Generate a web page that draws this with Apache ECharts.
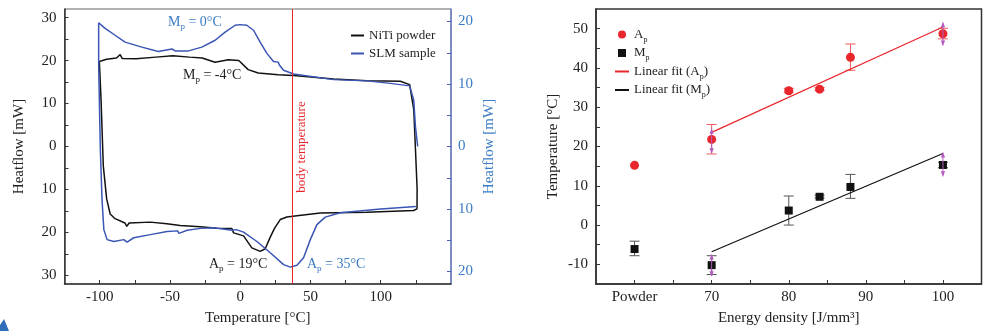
<!DOCTYPE html>
<html>
<head>
<meta charset="utf-8">
<script src="https://cdn.jsdelivr.net/npm/echarts@6/dist/echarts.min.js"></script>
<style>
html,body{margin:0;padding:0;background:#fff;}
#c{width:985px;height:331px;}
</style>
</head>
<body>
<div id="c"></div>
<script>
// ---------- Left chart: DSC heat flow loops ----------
const powderX = [-100.2, -95, -88, -85.4, -84, -74, -60, -48, -36, -27, -17.9, -8.4, -1, 5.7, 12.8, 27, 38, 66.5, 90.2, 114, 120.6, 123.5, 124.7, 125.9, 125.8, 123.4, 90, 57, 40.4, 33.2, 28.5, 24.5, 21.4, 17.8, 14.2, 8.3, 2.4, -4.7, -5.9, -16.6, -28.5, -42.7, -44, -52.2, -64, -79, -80.7, -82, -89, -92.5, -95, -97.4, -99, -100.2];
const powderY = [19.8, 20.3, 20.6, 21.4, 20.5, 20.4, 20.8, 21.1, 20.8, 20.6, 19.6, 20.2, 20.0, 17.9, 17.1, 16.7, 16.5, 15.7, 15.3, 15.2, 14.4, 8.6, -0.6, -9.9, -14.5, -14.9, -15.3, -15.5, -16.1, -16.4, -17.0, -19.0, -21.1, -23.8, -24.4, -23.6, -20.8, -20.1, -19.1, -19.0, -18.7, -18.4, -18.0, -18.0, -17.6, -17.8, -18.6, -17.8, -16.8, -15.7, -12.2, -4.5, 10.9, 19.8];

const slmX = [125.0, 100, 71.2, 60.5, 54.6, 49.9, 45.1, 40.4, 35.6, 30.9, 21.4, 11.9, 2.4, -2.8, -5.9, -7.1, -18.7, -28.2, -37.7, -43.6, -44.5, -52, -63.9, -75.7, -80.5, -82.8, -89.9, -94.7, -97, -98.3, -99.5, -100.2, -100.7, -100.7, -96.1, -89, -81.9, -70, -58.2, -48.5, -46.3, -36.8, -27.3, -17.8, -10.7, -3.6, 0, 4.7, 9.5, 14.2, 19, 23.7, 27, 28, 30.9, 38, 66.5, 90.2, 106.8, 120.6, 123.5, 124.7, 126.3];
const slmY = [-9.6, -10.0, -10.6, -11.3, -12.5, -14.9, -17.8, -19.0, -19.3, -18.9, -17.0, -15.2, -13.7, -13.3, -13.4, -13.1, -13.0, -13.1, -13.4, -13.9, -13.5, -13.6, -14.1, -14.6, -15.3, -14.9, -15.2, -14.9, -13.3, -8.5, -0.5, 7.4, 13.3, 19.8, 18.9, 17.8, 16.7, 15.9, 15.2, 15.6, 15.3, 15.3, 15.9, 17.0, 18.3, 19.4, 19.5, 19.4, 18.6, 16.7, 14.9, 13.6, 13.5, 13.0, 12.2, 11.6, 10.7, 10.5, 10.1, 9.7, 7.4, 3.2, 0.0];

const bodyTemperature = 37;
const leftXTicks = [-100, -75, -50, -25, 0, 25, 50, 75, 100, 125];
const leftXLabels = [-100, -50, 0, 50, 100];
const leftYTicks = [-30, -25, -20, -15, -10, -5, 0, 5, 10, 15, 20, 25, 30];
const leftYLabels = [-30, -20, -10, 0, 10, 20, 30];
const rightYTicks = [-20, -15, -10, -5, 0, 5, 10, 15, 20];
const rightYLabels = [-20, -10, 0, 10, 20];

// ---------- Right chart: peak temperatures vs energy density ----------
const energy = [60, 70, 80, 84, 88, 100];           // 60 = "Powder" position
const apValues = [15.2, 21.8, 34.2, 34.6, 42.7, 48.7];
const mpValues = [-6.1, -10.2, 3.7, 7.2, 9.7, 15.3];
const apErrLow = [15.2, 18.1, 33.7, 34.2, 39.4, 47.4];
const apErrHigh = [15.2, 25.6, 34.8, 35.0, 46.1, 50.1];
const mpErrLow = [-7.8, -12.6, 0.0, 6.9, 6.8, 14.6];
const mpErrHigh = [-4.1, -7.8, 7.4, 7.6, 12.9, 16.0];
const fitAX = [70, 100], fitAY = [23.6, 50.4];
const fitMX = [70, 100], fitMY = [-6.8, 18.2];
const arrowX = [70, 70, 100, 100];
const arrowLow = [18.3, -13.0, 45.7, 12.4];
const arrowHigh = [24.5, -7.5, 51.6, 18.5];
const rightXTicks = [60, 65, 70, 75, 80, 85, 90, 95, 100];
const rightXLabelValues = [60, 70, 80, 90, 100];
const rightXLabelTexts = ['Powder', '70', '80', '90', '100'];
const rightYTicks2 = [-10, -5, 0, 5, 10, 15, 20, 25, 30, 35, 40, 45, 50];
const rightYLabels2 = [-10, 0, 10, 20, 30, 40, 50];

const FONT = 'Liberation Serif';
const BLACK = '#111111';
const BLUE_LINE = '#3a55b4';
const BLUE_TEXT = '#3b7cc4';
const RED = '#e8262c';
const PURPLE = '#b35bbf';
const AXIS = '#333333';

const zip = (a, b) => a.map((v, i) => [v, b[i]]);
const zip3 = (a, b, c) => a.map((v, i) => [v, b[i], c[i]]);

const subRich = (color, size) => ({
  t: {fontFamily: FONT, fontSize: size, color: color},
  s: {fontFamily: FONT, fontSize: Math.round(size * 0.62), color: color, padding: [10, 0, 0, 0]}
});

function errRender(color, capHalf) {
  return function (params, api) {
    const x = api.value(0), lo = api.value(1), hi = api.value(2);
    const p1 = api.coord([x, lo]), p2 = api.coord([x, hi]);
    if (Math.abs(p1[1] - p2[1]) < 0.5) return null;
    const st = {stroke: color, lineWidth: 1};
    return {type: 'group', children: [
      {type: 'line', shape: {x1: p1[0], y1: p1[1], x2: p2[0], y2: p2[1]}, style: st},
      {type: 'line', shape: {x1: p1[0] - capHalf, y1: p1[1], x2: p1[0] + capHalf, y2: p1[1]}, style: st},
      {type: 'line', shape: {x1: p2[0] - capHalf, y1: p2[1], x2: p2[0] + capHalf, y2: p2[1]}, style: st}
    ]};
  };
}
function arrowRender(params, api) {
  const x = api.value(0), lo = api.value(1), hi = api.value(2);
  const p1 = api.coord([x, lo]), p2 = api.coord([x, hi]);
  const st = {stroke: PURPLE, lineWidth: 1};
  return {type: 'group', children: [
    {type: 'line', shape: {x1: p1[0], y1: p1[1], x2: p2[0], y2: p2[1]}, style: st},
    {type: 'polygon', shape: {points: [[p2[0], p2[1]], [p2[0] - 2.2, p2[1] + 5], [p2[0] + 2.2, p2[1] + 5]]}, style: {fill: PURPLE}},
    {type: 'polygon', shape: {points: [[p1[0], p1[1]], [p1[0] - 2.2, p1[1] - 5], [p1[0] + 2.2, p1[1] - 5]]}, style: {fill: PURPLE}}
  ]};
}

const tickLbl = {fontFamily: FONT, fontSize: 15, color: '#222'};
const hideSym = {opacity: 0, color: 'rgba(0,0,0,0)', borderWidth: 0};

const chart = echarts.init(document.getElementById('c'), null, {renderer: 'canvas'});
chart.setOption({
  animation: false,
  backgroundColor: '#fff',
  grid: [
    {left: 64.5, right: 534, top: 9, bottom: 45, show: true, borderColor: '#666', borderWidth: 1, backgroundColor: 'transparent'},
    {left: 596, right: 3.5, top: 9, bottom: 46, show: true, borderColor: AXIS, borderWidth: 1.5, backgroundColor: 'transparent'}
  ],
  xAxis: [
    {type: 'value', gridIndex: 0, min: -125, max: 150,
     name: 'Temperature [°C]', nameLocation: 'middle', nameGap: 27,
     nameTextStyle: {fontFamily: FONT, fontSize: 15, color: '#222'},
     axisLine: {show: true, onZero: false, lineStyle: {color: AXIS, width: 1.5}},
     axisTick: {inside: true, length: 4, customValues: leftXTicks, lineStyle: {color: AXIS}},
     axisLabel: Object.assign({customValues: leftXLabels, margin: 6}, tickLbl),
     splitLine: {show: false}},
    {type: 'value', gridIndex: 1, min: 55, max: 105,
     name: 'Energy density [J/mm³]', nameLocation: 'middle', nameGap: 27,
     nameTextStyle: {fontFamily: FONT, fontSize: 15, color: '#222'},
     axisLine: {show: true, onZero: false, lineStyle: {color: AXIS, width: 1.5}},
     axisTick: {inside: true, length: 4, customValues: rightXTicks, lineStyle: {color: AXIS}},
     axisLabel: Object.assign({customValues: rightXLabelValues, margin: 6,
       formatter: v => rightXLabelTexts[rightXLabelValues.indexOf(v)] || ''}, tickLbl),
     splitLine: {show: false}}
  ],
  yAxis: [
    {type: 'value', gridIndex: 0, min: -32, max: 32, position: 'left',
     name: 'Heatflow [mW]', nameLocation: 'middle', nameGap: 38,
     nameTextStyle: {fontFamily: FONT, fontSize: 15, color: '#222'},
     axisLine: {show: true, onZero: false, lineStyle: {color: AXIS, width: 1.5}},
     axisTick: {inside: true, length: 4, customValues: leftYTicks, lineStyle: {color: AXIS}},
     axisLabel: Object.assign({customValues: leftYLabels, margin: 8, formatter: v => String(Math.abs(v))}, tickLbl),
     splitLine: {show: false}},
    {type: 'value', gridIndex: 0, min: -22, max: 22, position: 'right',
     name: 'Heatflow [mW]', nameLocation: 'middle', nameGap: 31, nameRotate: 90,
     nameTextStyle: {fontFamily: FONT, fontSize: 15, color: BLUE_TEXT},
     axisLine: {show: true, onZero: false, lineStyle: {color: '#6b80c6', width: 1.5}},
     axisTick: {inside: true, length: 4, customValues: rightYTicks, lineStyle: {color: '#4a60b8'}},
     axisLabel: Object.assign({}, tickLbl, {customValues: rightYLabels, margin: 7, color: BLUE_TEXT, formatter: v => String(Math.abs(v))}),
     splitLine: {show: false}},
    {type: 'value', gridIndex: 1, min: -15, max: 55,
     name: 'Temperature [°C]', nameLocation: 'middle', nameGap: 35,
     nameTextStyle: {fontFamily: FONT, fontSize: 15, color: '#222'},
     axisLine: {show: true, onZero: false, lineStyle: {color: AXIS, width: 1.5}},
     axisTick: {inside: true, length: 4, customValues: rightYTicks2, lineStyle: {color: AXIS}},
     axisLabel: Object.assign({customValues: rightYLabels2, margin: 8}, tickLbl),
     splitLine: {show: false}}
  ],
  legend: [
    {left: 345, top: 24, orient: 'vertical', itemWidth: 13, itemHeight: 8, itemGap: 5,
     data: [{name: 'NiTi powder', itemStyle: hideSym}, {name: 'SLM sample', itemStyle: hideSym}],
     textStyle: {fontFamily: FONT, fontSize: 13, color: '#222'}},
    {left: 609, top: 23, orient: 'vertical', itemWidth: 14, itemHeight: 8, itemGap: 3,
     symbolKeepAspect: true,
     data: [{name: 'Ap', icon: 'circle'}, {name: 'Mp', icon: 'path://M0,0H10V10H0Z'},
            {name: 'FitA', itemStyle: hideSym}, {name: 'FitM', itemStyle: hideSym}],
     formatter: function (n) {
       return {Ap: '{t|A}{s|p}', Mp: '{t|M}{s|p}', FitA: '{t|Linear fit (A}{s|p}{t|)}', FitM: '{t|Linear fit (M}{s|p}{t|)}'}[n];
     },
     textStyle: {fontFamily: FONT, fontSize: 13, color: '#222', rich: subRich('#222', 13)}}
  ],
  series: [
    {name: 'NiTi powder', type: 'line', xAxisIndex: 0, yAxisIndex: 0, data: zip(powderX, powderY),
     showSymbol: false, symbol: 'none', lineStyle: {color: BLACK, width: 1.5}, itemStyle: {color: BLACK},
     markLine: {silent: true, symbol: ['none', 'none'], label: {show: false},
       lineStyle: {color: RED, width: 1, type: 'solid'}, data: [{xAxis: bodyTemperature}]}},
    {name: 'SLM sample', type: 'line', xAxisIndex: 0, yAxisIndex: 1, data: zip(slmX, slmY),
     showSymbol: false, symbol: 'none', lineStyle: {color: BLUE_LINE, width: 1.5}, itemStyle: {color: BLUE_TEXT}},

    {name: 'ApErr', type: 'custom', xAxisIndex: 1, yAxisIndex: 2, data: zip3(energy, apErrLow, apErrHigh),
     renderItem: errRender('#ee5a5a', 5), encode: {x: 0, y: [1, 2]}, z: 1},
    {name: 'MpErr', type: 'custom', xAxisIndex: 1, yAxisIndex: 2, data: zip3(energy, mpErrLow, mpErrHigh),
     renderItem: errRender('#555555', 5), encode: {x: 0, y: [1, 2]}, z: 1},
    {name: 'Ap', type: 'scatter', xAxisIndex: 1, yAxisIndex: 2, data: zip(energy, apValues),
     symbol: 'circle', symbolSize: 9, itemStyle: {color: RED, opacity: 1}, z: 3},
    {name: 'Mp', type: 'scatter', xAxisIndex: 1, yAxisIndex: 2, data: zip(energy, mpValues),
     symbol: 'rect', symbolSize: 8, itemStyle: {color: BLACK, opacity: 1}, z: 3},
    {name: 'FitA', type: 'line', xAxisIndex: 1, yAxisIndex: 2, data: zip(fitAX, fitAY),
     symbol: 'none', showSymbol: false, lineStyle: {color: RED, width: 1.2}, itemStyle: {color: RED}, z: 4},
    {name: 'FitM', type: 'line', xAxisIndex: 1, yAxisIndex: 2, data: zip(fitMX, fitMY),
     symbol: 'none', showSymbol: false, lineStyle: {color: BLACK, width: 1.2}, itemStyle: {color: BLACK}, z: 4},
    {name: 'Arrows', type: 'custom', xAxisIndex: 1, yAxisIndex: 2, data: zip3(arrowX, arrowLow, arrowHigh),
     renderItem: arrowRender, encode: {x: 0, y: [1, 2]}, z: 5}
  ],
  graphic: [
    {type: 'text', left: 168, top: 15, style: {text: '{t|M}{s|p}{t| = 0°C}', rich: subRich(BLUE_TEXT, 14), fill: BLUE_TEXT}},
    {type: 'text', left: 183, top: 68, style: {text: '{t|M}{s|p}{t| = -4°C}', rich: subRich('#222', 14), fill: '#222'}},
    {type: 'text', left: 209, top: 257, style: {text: '{t|A}{s|p}{t| = 19°C}', rich: subRich('#222', 14), fill: '#222'}},
    {type: 'text', left: 307, top: 257, style: {text: '{t|A}{s|p}{t| = 35°C}', rich: subRich(BLUE_TEXT, 14), fill: BLUE_TEXT}},
    {type: 'text', x: 302, y: 147, rotation: Math.PI / 2,
     style: {text: 'body temperature', font: '13px "Liberation Serif"', fill: RED, align: 'center', verticalAlign: 'middle'}},
    {type: 'polygon', shape: {points: [[0, 331], [0, 325], [4, 319], [9, 331]]}, style: {fill: '#2f6fb8'}}
  ]
});
</script>
</body>
</html>
